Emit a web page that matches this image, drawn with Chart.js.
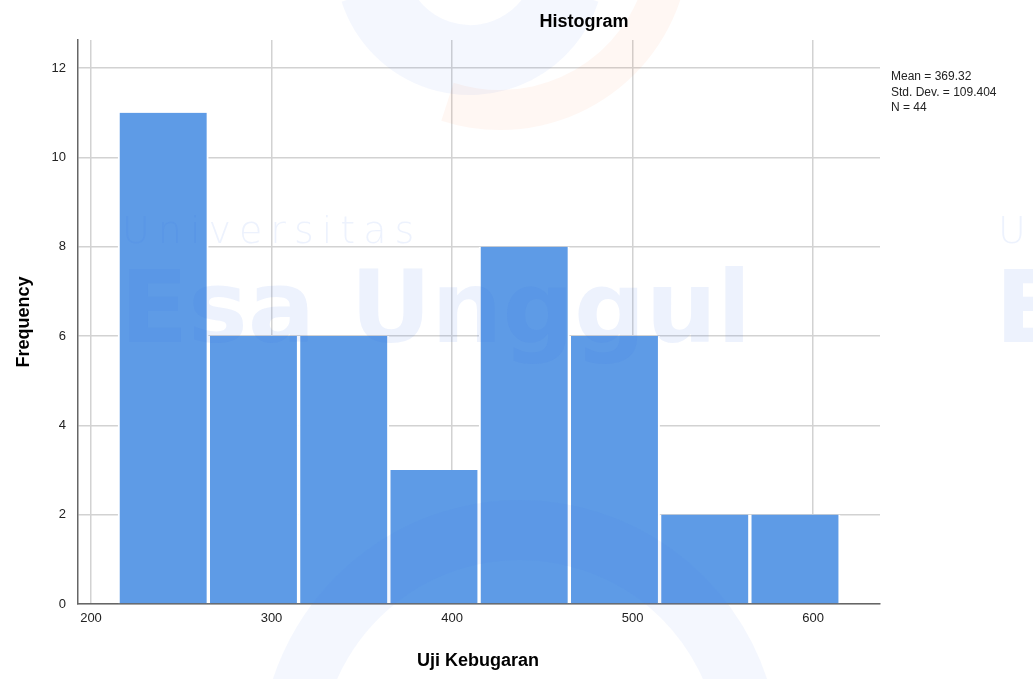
<!DOCTYPE html>
<html>
<head>
<meta charset="utf-8">
<script src="https://cdn.jsdelivr.net/npm/chart.js@4"></script>
<style>
  html, body { margin: 0; padding: 0; background: #fff; }
  #wrap { width: 1033px; height: 679px; position: relative; }
</style>
</head>
<body>
<div id="wrap"><canvas id="myChart"></canvas></div>
<script>
// histogram bins (centre of each bin, width 50) and counts
const binCenters = [240, 290, 340, 390, 440, 490, 540, 590];
const frequencies = [11, 6, 6, 3, 8, 6, 2, 2];
const statsLines = ['Mean = 369.32', 'Std. Dev. = 109.404', 'N = 44'];

const barData = binCenters.map((c, i) => ({ x: c, y: frequencies[i] }));

const fontFamily = 'Arial, "Liberation Sans", sans-serif';

// faint university watermark + labels drawn by hand
const extras = {
  id: 'extras',
  afterDatasetsDraw(chart) {
    const ctx = chart.ctx;
    ctx.save();
    // swirl shapes
    ctx.lineWidth = 70;
    ctx.strokeStyle = 'rgba(60,120,230,0.06)';
    ctx.beginPath();
    ctx.arc(470, -40, 100, 0.1 * Math.PI, 0.9 * Math.PI);
    ctx.stroke();
    ctx.strokeStyle = 'rgba(250,120,50,0.06)';
    ctx.lineWidth = 40;
    ctx.beginPath();
    ctx.arc(500, -60, 170, 0.05 * Math.PI, 0.6 * Math.PI);
    ctx.stroke();
    ctx.strokeStyle = 'rgba(60,120,230,0.06)';
    ctx.lineWidth = 60;
    ctx.beginPath();
    ctx.arc(520, 760, 230, 1.05 * Math.PI, 1.95 * Math.PI);
    ctx.stroke();
    // text watermark
    ctx.fillStyle = 'rgba(50,115,230,0.09)';
    ctx.textBaseline = 'alphabetic';
    ctx.textAlign = 'left';
    ctx.font = '300 38px "DejaVu Sans", sans-serif';
    ctx.letterSpacing = '8px';
    ctx.fillText('Universitas', 122, 243);
    ctx.fillText('U', 998, 243);
    ctx.letterSpacing = '0px';
    ctx.font = 'bold 100px "DejaVu Sans", sans-serif';
    ctx.fillText('Esa Unggul', 120, 342);
    ctx.fillText('E', 995, 342);
    ctx.restore();

    ctx.save();
    ctx.fillStyle = '#000';
    ctx.textAlign = 'center';
    ctx.textBaseline = 'middle';
    ctx.font = 'bold 18px ' + fontFamily;
    ctx.fillText('Histogram', 584, 22);
    ctx.fillText('Uji Kebugaran', 478, 661);
    ctx.translate(24, 322);
    ctx.rotate(-Math.PI / 2);
    ctx.fillText('Frequency', 0, 0);
    ctx.restore();

    ctx.save();
    ctx.fillStyle = '#222';
    ctx.font = '12px ' + fontFamily;
    ctx.textAlign = 'left';
    ctx.textBaseline = 'middle';
    statsLines.forEach((t, i) => ctx.fillText(t, 891, 77 + i * 15.5));
    ctx.restore();
  }
};

new Chart('myChart', {
  type: 'bar',
  data: {
    datasets: [{
      label: 'Frequency',
      data: barData,
      backgroundColor: '#5e9be6',
      borderColor: '#ffffff',
      borderWidth: { left: 2, right: 2, top: 0, bottom: 0 },
      borderSkipped: false,
      barPercentage: 1,
      categoryPercentage: 1
    }]
  },
  options: {
    responsive: true,
    maintainAspectRatio: false,
    animation: false,
    layout: { padding: { top: 40, right: 153, bottom: 0, left: 0 } },
    plugins: { legend: { display: false }, tooltip: { enabled: false }, title: { display: false } },
    scales: {
      x: {
        type: 'linear',
        offset: false,
        min: 192.8,
        max: 637.1,
        afterFit(scale) { scale.height = 75; },
        ticks: {
          stepSize: 100,
          includeBounds: false,
          padding: 7,
          color: '#222',
          maxRotation: 0,
          font: { family: fontFamily, size: 13 }
        },
        grid: { offset: false, color: '#d2d2d2', lineWidth: 1.5, drawTicks: false },
        border: { color: '#666', width: 1.5 }
      },
      y: {
        min: 0,
        max: 12.63,
        afterFit(scale) { scale.width = 78; },
        ticks: {
          stepSize: 2,
          includeBounds: false,
          padding: 12,
          color: '#222',
          font: { family: fontFamily, size: 13 }
        },
        grid: { color: '#d2d2d2', lineWidth: 1.5, drawTicks: false },
        border: { color: '#666', width: 1.5 }
      }
    }
  },
  plugins: [extras]
});
</script>
</body>
</html>
